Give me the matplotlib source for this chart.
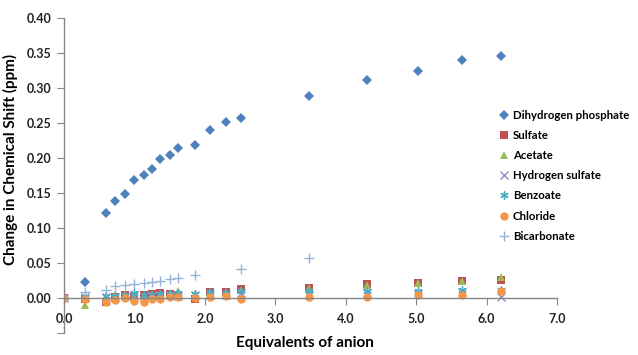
import numpy as np
import matplotlib
matplotlib.use("Agg")
import matplotlib.pyplot as plt

plt.rcParams['font.family'] = ['Lato', 'DejaVu Sans']

# Data
equiv = [0, 0.30, 0.59, 0.72, 0.86, 0.99, 1.13, 1.25, 1.37, 1.50,
         1.62, 1.86, 2.08, 2.30, 2.51, 3.48, 4.30, 5.03, 5.65, 6.21]
nan = np.nan
dihydrogen_phosphate = [0, 0.023, 0.122, 0.139, 0.148, 0.169, 0.176, 0.185, 0.199, 0.205,
                        0.215, 0.218, 0.240, 0.251, 0.257, 0.289, 0.311, 0.325, 0.340, 0.346]
sulfate = [0, -0.002, -0.006, 0.002, 0.004, 0.002, 0.004, 0.006, 0.007, 0.006,
           0.004, -0.001, 0.008, 0.008, 0.013, 0.015, 0.020, 0.021, 0.024, 0.026]
acetate = [0, -0.010, 0.003, 0.004, 0.004, 0.003, 0.003, 0.005, 0.006, 0.007,
           0.010, 0.006, 0.009, 0.009, 0.012, 0.014, 0.018, 0.022, 0.025, 0.030]
hydrogen_sulfate = [0, 0.001, 0.001, 0.002, 0.003, 0.004, 0.003, 0.004, 0.004, 0.004,
                    0.003, 0.004, 0.005, 0.005, 0.007, 0.005, 0.007, 0.006, 0.008, 0.002]
benzoate = [0, 0.001, 0.003, 0.003, 0.004, 0.007, 0.004, 0.005, 0.006, 0.006,
            0.007, 0.006, 0.008, 0.007, 0.010, 0.010, 0.010, 0.010, 0.012, 0.012]
chloride = [0, -0.002, -0.005, -0.003, 0.000, -0.004, -0.006, -0.002, -0.002, 0.001,
            0.002, 0.000, 0.001, 0.003, -0.002, 0.002, 0.002, 0.005, 0.005, 0.010]
bicarbonate = [0, 0.008, 0.012, 0.017, 0.019, 0.020, 0.022, 0.023, 0.024, 0.027,
               0.029, 0.033, nan, nan, 0.042, 0.057, nan, nan, nan, nan]

series = [
    ("Dihydrogen phosphate", dihydrogen_phosphate, "D", "#4F81BD", 5),
    ("Sulfate", sulfate, "s", "#C0504D", 5.5),
    ("Acetate", acetate, "^", "#9BBB59", 6),
    ("Hydrogen sulfate", hydrogen_sulfate, "x", "#9A8BBD", 5.5),
    ("Benzoate", benzoate, (6, 2, 0), "#4BACC6", 6),
    ("Chloride", chloride, "o", "#F79646", 6),
    ("Bicarbonate", bicarbonate, "+", "#95B3D7", 7),
]

fig = plt.figure(figsize=(6.38, 3.55), dpi=100)
ax = fig.add_axes([64 / 638, 22 / 355, 493 / 638, 315 / 355])

for name, vals, mk, col, ms in series:
    if mk in ("x", "+") or isinstance(mk, tuple):
        ax.plot(equiv, vals, linestyle="none", marker=mk, color=col,
                markersize=ms, markeredgewidth=1.0, label=name)
    else:
        ax.plot(equiv, vals, linestyle="none", marker=mk, color=col,
                markersize=ms, markeredgewidth=0, label=name)

# Axes styling
ax.set_xlim(0, 7)
ax.set_ylim(-0.05, 0.40)
ax.spines['top'].set_visible(False)
ax.spines['right'].set_visible(False)
ax.spines['bottom'].set_position(('data', 0))
for s in ('left', 'bottom'):
    ax.spines[s].set_color('#868686')
    ax.spines[s].set_linewidth(1.0)

ax.set_xticks(np.arange(0, 7.01, 1.0))
ax.set_xticklabels(["%.1f" % v for v in np.arange(0, 7.01, 1.0)], fontweight='bold')
yt = np.arange(-0.05, 0.401, 0.05)
ax.set_yticks(yt)
ax.set_yticklabels(["" if v < -0.001 else "%.2f" % abs(v) for v in yt], fontweight='bold')
ax.tick_params(axis='both', direction='out', length=5, color='#868686',
               labelsize=9, labelcolor='#222222')
ax.tick_params(axis='x', pad=6)
ax.tick_params(axis='y', pad=4)

ax.set_ylabel("Change in Chemical Shift (ppm)", fontsize=11, fontweight='bold')
ax.yaxis.set_label_coords(-0.093, 0.55)
fig.text(305 / 638, 1 - 343 / 355, "Equivalents of anion", fontsize=11,
         fontweight='bold', ha='center', va='center')

fig.legend(loc='upper left', bbox_to_anchor=(498 / 638, 1 - 110 / 355),
           frameon=False, prop={'size': 8.2, 'weight': 'bold'}, handlelength=1.0,
           handletextpad=0.3, labelspacing=0.8, borderaxespad=0, borderpad=0)

fig.savefig("out.png", dpi=100)
